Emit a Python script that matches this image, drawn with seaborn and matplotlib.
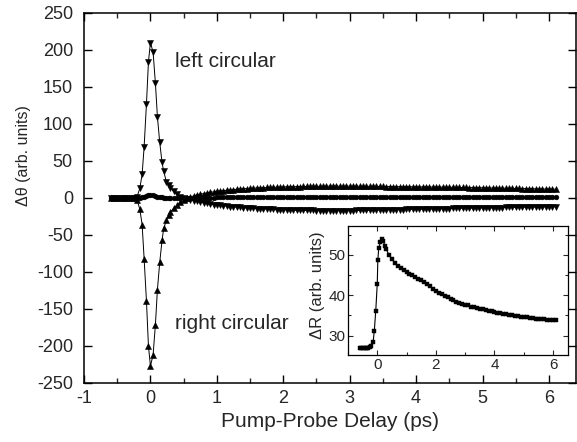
import numpy as np
import pandas as pd
import matplotlib
matplotlib.use("Agg")
import matplotlib.pyplot as plt
from matplotlib.ticker import MultipleLocator
import seaborn as sns

# ---------------- data ----------------
delay_head = [-0.6, -0.55, -0.5, -0.45, -0.4, -0.35, -0.3, -0.25, -0.2,
              -0.16, -0.125, -0.095, -0.06, -0.03, 0.0, 0.04, 0.075, 0.105,
              0.14, 0.175, 0.2, 0.24, 0.275, 0.3, 0.35, 0.4, 0.45, 0.5, 0.55, 0.6]
delay_tail = [0.65, 0.7, 0.75, 0.8, 0.85, 0.9, 0.95, 1.0, 1.05, 1.1, 1.15, 1.2,
              1.25, 1.3, 1.35, 1.4, 1.45, 1.5, 1.55, 1.6, 1.65, 1.7, 1.75, 1.8,
              1.85, 1.9, 1.95, 2.0,
              2.05, 2.1, 2.15, 2.2, 2.25, 2.3, 2.35, 2.4, 2.45, 2.5, 2.55, 2.6,
              2.65, 2.7, 2.75, 2.8, 2.85, 2.9, 2.95, 3.0,
              3.05, 3.1, 3.15, 3.2, 3.25, 3.3, 3.35, 3.4, 3.45, 3.5, 3.55, 3.6,
              3.65, 3.7, 3.75, 3.8, 3.85, 3.9, 3.95, 4.0,
              4.05, 4.1, 4.15, 4.2, 4.25, 4.3, 4.35, 4.4, 4.45, 4.5, 4.55, 4.6,
              4.65, 4.7, 4.75, 4.8, 4.85, 4.9, 4.95, 5.0,
              5.05, 5.1, 5.15, 5.2, 5.25, 5.3, 5.35, 5.4, 5.45, 5.5, 5.55, 5.6,
              5.65, 5.7, 5.75, 5.8, 5.85, 5.9, 5.95, 6.0, 6.05, 6.1]

left_head = [0, 0, 0, 0, 0, 0, 0, 0.5, 2,
             13, 32, 69, 127, 184, 210, 197, 155, 110, 75, 48, 36, 22, 17,
             14, 9, 5, 2, 0, -1, -2.5]
left_tail = [-3.5, -4.5, -5.5, -6.5, -7.3, -8, -8.8, -9.5, -10, -10.5, -11, -11.5,
             -11.9, -12.3, -12.7, -13, -13.4, -13.7, -14, -14.3, -14.5, -14.8, -15,
             -15.3, -15.5, -15.7, -15.8, -16,
             -16.1, -16.3, -16.4, -16.5, -16.6, -16.7, -16.8, -16.9, -16.9, -17,
             -17, -17.1, -17.1, -17.1, -17.1, -17.1, -17.1, -17, -17, -17,
             -17, -16.9, -16.8, -16.7, -16.7, -16.6, -16.5, -16.4, -16.3, -16.2,
             -16.1, -16, -15.9, -15.8, -15.7, -15.6, -15.5, -15.4, -15.3, -15.2,
             -15.1, -15, -14.9, -14.8, -14.7, -14.6, -14.5, -14.4, -14.3, -14.2,
             -14.1, -14, -13.9, -13.8, -13.8, -13.7, -13.6, -13.5, -13.4, -13.3,
             -13.3, -13.2, -13.1, -13, -13, -12.9, -12.8, -12.7, -12.7, -12.6,
             -12.5, -12.4, -12.4, -12.3, -12.2, -12.2, -12.1, -12, -12, -11.9,
             -11.9, -11.8]

right_head = [0, 0, 0, 0, 0, 0, 0, -0.5, -3,
              -15, -36, -82, -139, -200, -227, -212, -171, -124, -87, -57, -41,
              -30, -23, -19, -14, -10, -6, -3, -0.5, 1.5]
right_tail = [2.8, 4, 5, 6, 6.8, 7.5, 8.3, 9, 9.5, 10, 10.5, 11, 11.4, 11.8, 12.2,
              12.5, 12.8, 13, 13.3, 13.5, 13.8, 14, 14.2, 14.4, 14.6, 14.7, 14.9, 15,
              15.1, 15.2, 15.3, 15.4, 15.5, 15.6, 15.6, 15.7, 15.7, 15.8, 15.8, 15.9,
              15.9, 16, 16, 16, 16, 16, 16, 16,
              16, 16, 15.9, 15.9, 15.8, 15.8, 15.7, 15.7, 15.6, 15.6, 15.5, 15.5,
              15.4, 15.4, 15.3, 15.3, 15.2, 15.2, 15.1, 15.1,
              15, 15, 14.9, 14.9, 14.8, 14.8, 14.7, 14.7, 14.6, 14.5, 14.5, 14.4,
              14.3, 14.3, 14.2, 14.1, 14, 14, 13.9, 13.8,
              13.7, 13.6, 13.5, 13.5, 13.4, 13.3, 13.2, 13.1, 13, 13, 12.9, 12.8,
              12.7, 12.6, 12.5, 12.4, 12.3, 12.2, 12.1, 12, 12, 11.9]

linear_head = [0, 0, 0, 0, 0, 0, 0, 0, 0.3,
               0.5, 1, 1.5, 2.5, 3.5, 4.5, 4, 3, 2, 1.3, 0.8, 0.4, 0, -0.3,
               -0.4, -0.4, -0.3, -0.2, 0, 0.1, 0.2]
linear_tail = [0.2, 0.3, 0.4, 0.5, 0.5, 0.6, 0.6, 0.7, 0.7, 0.7, 0.8, 0.8, 0.8,
               0.8, 0.9, 0.9, 0.9, 0.9, 0.9, 1.0, 1.0, 1.0,
               1.0, 0.9, 1.0, 1.1, 1.0, 0.9, 1.0, 1.0, 1.1, 1.0, 0.9, 1.0, 1.0,
               1.1, 1.0, 1.0, 0.9, 1.0, 1.0, 1.1, 1.0, 1.0,
               1.0, 0.9, 1.0, 1.1, 1.0, 0.9, 1.0, 1.0, 1.1, 1.0, 0.9, 1.0, 1.0,
               1.1, 1.0, 1.0, 0.9, 1.0, 1.0, 1.1, 1.0, 1.0,
               1.0, 0.9, 1.0, 1.1, 1.0, 0.9, 1.0, 1.0, 1.1, 1.0, 0.9, 1.0, 1.0,
               1.1, 1.0, 1.0, 0.9, 1.0, 1.0, 1.1, 1.0, 1.0,
               1.0, 0.9, 1.0, 1.1, 1.0, 0.9, 1.0, 1.0, 1.1, 1.0, 0.9, 1.0, 1.0,
               1.1, 1.0, 1.0, 0.9, 1.0, 1.0, 1.1, 1.0, 1.0]

inset_delay = [-0.6, -0.55, -0.5, -0.45, -0.4, -0.35, -0.3, -0.25, -0.2,
               -0.14, -0.1, -0.05, 0.0, 0.02, 0.05, 0.11, 0.15, 0.2, 0.26,
               0.3, 0.4, 0.5, 0.6, 0.7, 0.8, 0.9, 1.0,
               1.1, 1.2, 1.3, 1.4, 1.5, 1.6, 1.7, 1.8, 1.9, 2.0,
               2.1, 2.2, 2.3, 2.4, 2.5, 2.6, 2.7, 2.8, 2.9, 3.0,
               3.1, 3.2, 3.3, 3.4, 3.5, 3.6, 3.7, 3.8, 3.9, 4.0,
               4.1, 4.2, 4.3, 4.4, 4.5, 4.6, 4.7, 4.8, 4.9, 5.0,
               5.1, 5.2, 5.3, 5.4, 5.5, 5.6, 5.7, 5.8, 5.9, 6.0, 6.1]
inset_dR = [26.9, 26.9, 26.9, 26.9, 26.9, 27.0, 27.0, 27.1, 27.4,
            28.5, 31.2, 36.2, 42.8, 48.7, 51.6, 53.3, 54.0, 53.5, 52.3,
            51.5, 50.0, 49.0, 48.0, 47.3, 46.7, 46.2, 45.7,
            45.3, 44.9, 44.5, 44.1, 43.7, 43.3, 42.8, 42.3, 41.6, 41.0,
            40.6, 40.2, 39.8, 39.5, 39.1, 38.8, 38.4, 38.1, 37.9, 37.7,
            37.5, 37.2, 37.0, 36.8, 36.6, 36.5, 36.3, 36.2, 36.0, 35.9,
            35.7, 35.6, 35.4, 35.3, 35.2, 35.0, 34.9, 34.8, 34.7, 34.6,
            34.5, 34.4, 34.3, 34.2, 34.1, 34.0, 34.0, 33.9, 33.9, 33.9, 33.8]

main_xticks = [-1, 0, 1, 2, 3, 4, 5, 6]
main_yticks = [-250, -200, -150, -100, -50, 0, 50, 100, 150, 200, 250]
inset_xticks = [0, 2, 4, 6]
inset_yticks = [30, 40, 50]

# ---------------- style ----------------
sns.set_theme(style="ticks")
plt.rcParams['font.family'] = ['Liberation Sans', 'DejaVu Sans']
plt.rcParams['axes.linewidth'] = 1.1
plt.rcParams['xtick.direction'] = 'in'
plt.rcParams['ytick.direction'] = 'in'

fig = plt.figure(figsize=(5.77, 4.42), dpi=100)
ax = fig.add_axes([0.1456, 0.1335, 0.853, 0.8371])

delay = delay_head + delay_tail
df = pd.DataFrame({"delay": delay,
                   "left": left_head + left_tail,
                   "right": right_head + right_tail,
                   "linear": linear_head + linear_tail})

common = dict(color="black", linewidth=0.7, markeredgewidth=0.4,
              markeredgecolor="black", ax=ax, sort=False)
sns.lineplot(data=df, x="delay", y="linear", marker="o", markersize=3.4, **common)
sns.lineplot(data=df, x="delay", y="left", marker="v", markersize=4.2, **common)
sns.lineplot(data=df, x="delay", y="right", marker="^", markersize=4.2, **common)

ax.set_xlim(-1, 6.41)
ax.set_ylim(-250, 250)
ax.set_xticks(main_xticks)
ax.set_xticklabels([str(t) for t in main_xticks])
ax.set_yticks(main_yticks)
ax.set_yticklabels([str(t) for t in main_yticks])
ax.xaxis.set_minor_locator(MultipleLocator(0.5))
ax.tick_params(which='major', length=6, width=1.0, labelsize=13, color='black',
               top=True, right=True)
ax.tick_params(axis='y', which='major', pad=8)
ax.tick_params(axis='x', which='major', pad=5)
ax.tick_params(which='minor', length=3.5, width=1.0, top=True, right=True)
ax.tick_params(axis='y', which='minor', left=False, right=False)
for s in ax.spines.values():
    s.set_color('black')
ax.set_xlabel("Pump-Probe Delay (ps)", fontsize=15, labelpad=4)
ax.set_ylabel("Δθ (arb. units)", fontsize=11.5)
ax.yaxis.set_label_coords(-0.107, 0.616)

ax.text(0.37, 185, "left circular", fontsize=15, va="center", ha="left")
ax.text(0.375, -170, "right circular", fontsize=15, va="center", ha="left")

# ---------------- inset ----------------
axi = fig.add_axes([0.603, 0.197, 0.381, 0.292])
dfi = pd.DataFrame({"delay": inset_delay, "dR": inset_dR})
sns.lineplot(data=dfi, x="delay", y="dR", marker="s", markersize=3.2,
             color="black", linewidth=0.8, markeredgewidth=0.3,
             markeredgecolor="black", ax=axi, sort=False)
axi.set_xlim(-1.0, 6.5)
axi.set_ylim(25.2, 57.2)
axi.set_xticks(inset_xticks)
axi.set_xticklabels([str(t) for t in inset_xticks])
axi.set_yticks(inset_yticks)
axi.set_yticklabels([str(t) for t in inset_yticks])
axi.xaxis.set_minor_locator(MultipleLocator(1))
axi.yaxis.set_minor_locator(MultipleLocator(5))
axi.tick_params(which='major', length=3.5, width=0.8, labelsize=11,
                top=True, right=True, pad=2)
axi.tick_params(which='minor', length=2, width=0.8, top=True, right=True)
for s in axi.spines.values():
    s.set_linewidth(0.9)
    s.set_color('black')
axi.set_xlabel("")
axi.set_ylabel("ΔR (arb. units)", fontsize=12, labelpad=2)
axi.yaxis.set_label_coords(-0.105, 0.54)

fig.savefig("out.png", dpi=100)
